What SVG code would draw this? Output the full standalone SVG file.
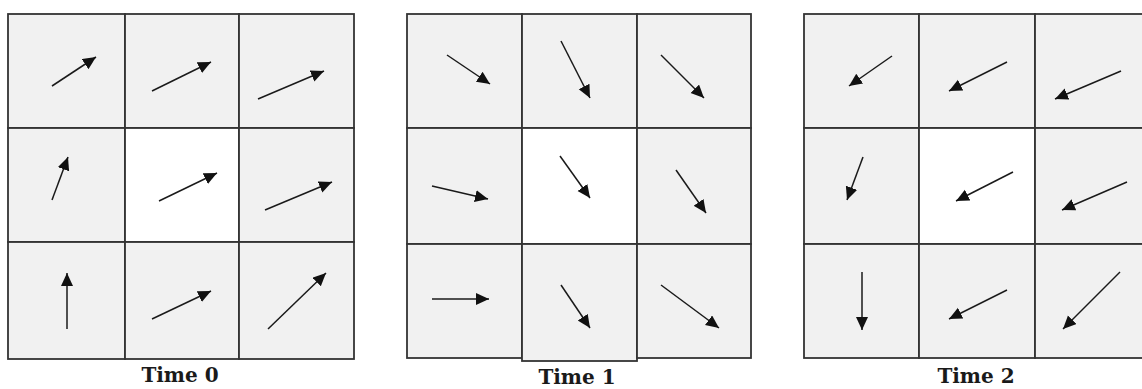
<svg xmlns="http://www.w3.org/2000/svg" width="1142" height="389" viewBox="0 0 1142 389">
<style>
.c{fill:#f1f1f1;stroke:#333;stroke-width:1.8}
.w{fill:#ffffff;stroke:#333;stroke-width:1.8}
.a{stroke:#1a1a1a;stroke-width:1.5;fill:none;marker-end:url(#ah)}
.t{font-family:"DejaVu Serif","Liberation Serif",serif;font-weight:bold;font-size:20px;fill:#1a1a1a;text-anchor:middle}
</style>
<defs>
<marker id="ah" markerUnits="userSpaceOnUse" markerWidth="16" markerHeight="14" refX="13" refY="6" orient="auto" viewBox="0 0 16 14">
<path d="M0,0 L13,6 L0,12 z" fill="#111"/>
</marker>
</defs>
<rect width="1142" height="389" fill="#ffffff"/>
<g id="time0">
<rect class="c" x="8" y="14" width="117" height="114"/>
<rect class="c" x="125" y="14" width="114" height="114"/>
<rect class="c" x="239" y="14" width="115" height="114"/>
<rect class="c" x="8" y="128" width="117" height="114"/>
<rect class="w" x="125" y="128" width="114" height="114"/>
<rect class="c" x="239" y="128" width="115" height="114"/>
<rect class="c" x="8" y="242" width="117" height="117"/>
<rect class="c" x="125" y="242" width="114" height="117"/>
<rect class="c" x="239" y="242" width="115" height="117"/>
<text class="t" x="180" y="382">Time 0</text>
</g>
<g id="time1">
<rect class="c" x="407" y="14" width="115" height="114"/>
<rect class="c" x="522" y="14" width="115" height="114"/>
<rect class="c" x="637" y="14" width="114" height="114"/>
<rect class="c" x="407" y="128" width="115" height="116"/>
<rect class="w" x="522" y="128" width="115" height="116"/>
<rect class="c" x="637" y="128" width="114" height="116"/>
<rect class="c" x="407" y="244" width="115" height="114"/>
<rect class="c" x="522" y="244" width="115" height="117"/>
<rect class="c" x="637" y="244" width="114" height="114"/>
<text class="t" x="577" y="384">Time 1</text>
</g>
<g id="time2">
<rect class="c" x="804" y="14" width="115" height="114"/>
<rect class="c" x="919" y="14" width="116" height="114"/>
<rect class="c" x="1035" y="14" width="116" height="114"/>
<rect class="c" x="804" y="128" width="115" height="116"/>
<rect class="w" x="919" y="128" width="116" height="116"/>
<rect class="c" x="1035" y="128" width="116" height="116"/>
<rect class="c" x="804" y="244" width="115" height="114"/>
<rect class="c" x="919" y="244" width="116" height="114"/>
<rect class="c" x="1035" y="244" width="116" height="114"/>
<text class="t" x="976" y="383">Time 2</text>
</g>
<g id="connectors">
<line class="a" x1="52" y1="86" x2="96" y2="57"/>
<line class="a" x1="152" y1="91" x2="211" y2="62"/>
<line class="a" x1="258" y1="99" x2="324" y2="71"/>
<line class="a" x1="52" y1="200" x2="68" y2="157"/>
<line class="a" x1="159" y1="201" x2="217" y2="173"/>
<line class="a" x1="265" y1="210" x2="332" y2="182"/>
<line class="a" x1="67" y1="329" x2="67" y2="273"/>
<line class="a" x1="152" y1="319" x2="211" y2="291"/>
<line class="a" x1="268" y1="329" x2="326" y2="273"/>
<line class="a" x1="447" y1="55" x2="490" y2="84"/>
<line class="a" x1="561" y1="41" x2="590" y2="98"/>
<line class="a" x1="661" y1="55" x2="704" y2="98"/>
<line class="a" x1="432" y1="186" x2="488" y2="199"/>
<line class="a" x1="560" y1="156" x2="590" y2="198"/>
<line class="a" x1="676" y1="170" x2="706" y2="213"/>
<line class="a" x1="432" y1="299" x2="489" y2="299"/>
<line class="a" x1="561" y1="285" x2="590" y2="328"/>
<line class="a" x1="661" y1="285" x2="719" y2="328"/>
<line class="a" x1="892" y1="56" x2="849" y2="86"/>
<line class="a" x1="1007" y1="62" x2="949" y2="91"/>
<line class="a" x1="1121" y1="71" x2="1055" y2="99"/>
<line class="a" x1="863" y1="157" x2="847" y2="200"/>
<line class="a" x1="1013" y1="172" x2="956" y2="201"/>
<line class="a" x1="1127" y1="182" x2="1062" y2="210"/>
<line class="a" x1="862" y1="272" x2="862" y2="330"/>
<line class="a" x1="1007" y1="290" x2="949" y2="319"/>
<line class="a" x1="1120" y1="272" x2="1063" y2="329"/>
</g>
</svg>
